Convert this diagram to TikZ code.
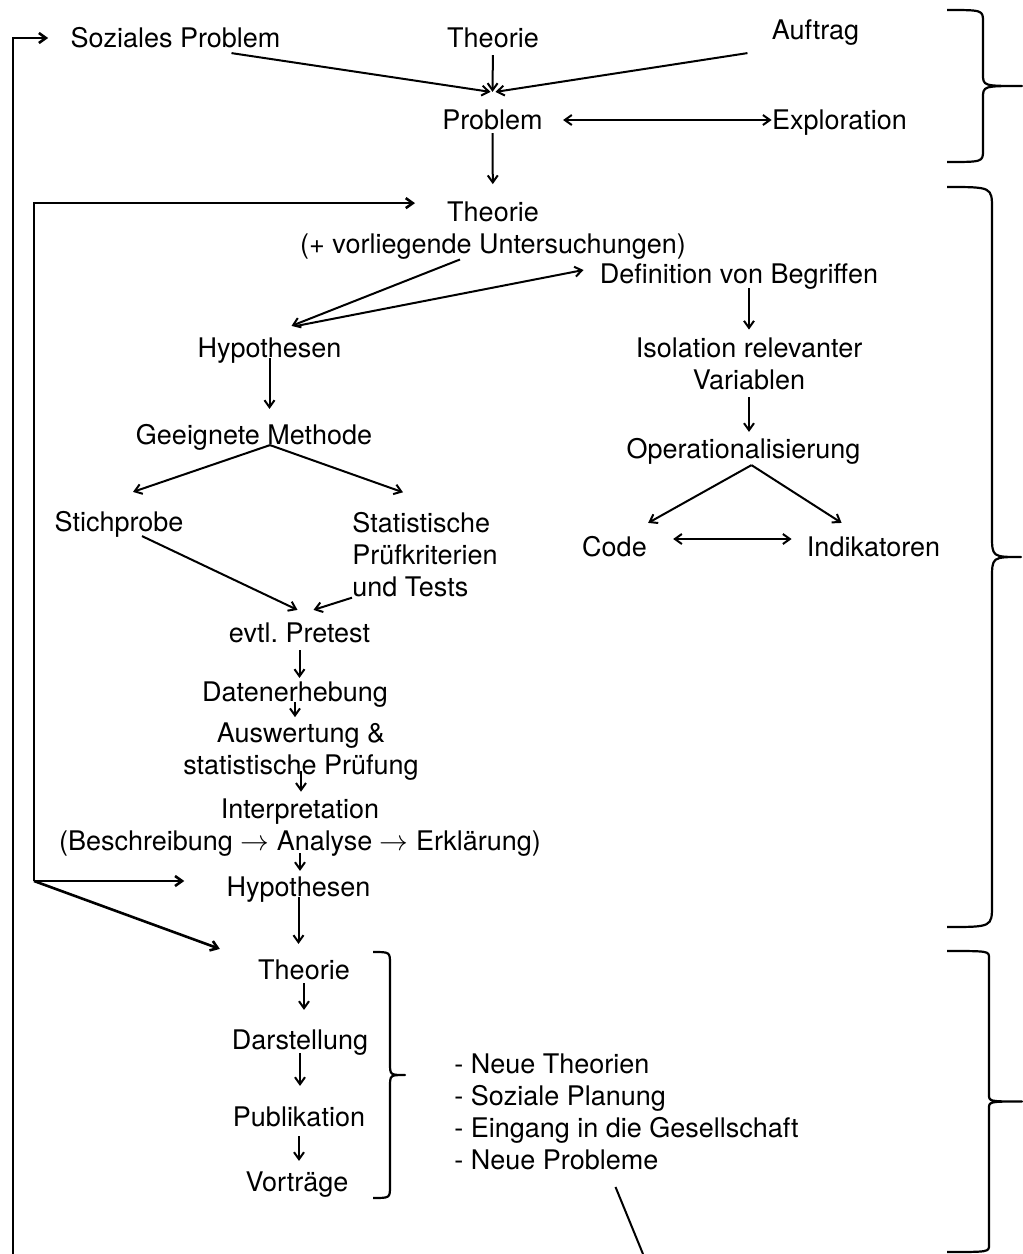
\documentclass[tikz,border=0pt]{standalone}
\usepackage{fontspec}
\setmainfont{TeX Gyre Heros}
\usetikzlibrary{arrows.meta,calc}

\tikzset{
  txt/.style={inner sep=0pt, text height=9.7pt, text depth=0pt},
  mtxt/.style={inner sep=0pt, align=center},
  verb/.style={->, line width=1pt},
  rueck/.style={->, line width=1.3pt},
  klammerlinie/.style={line width=1.1pt, line join=round},
}

% right brace: ends x, stem x, tip x, top y, bottom y, bend
\newcommand{\klammer}[6]{%
  \pgfmathsetmacro{\km}{(#4+#5)/2}%
  \draw[klammerlinie] (#1,#4) .. controls (#2,#4) .. (#2,{#4+#6})
    -- (#2,{\km-#6}) .. controls (#2,\km) .. (#3,\km)
    .. controls (#2,\km) .. (#2,{\km+#6})
    -- (#2,{#5-#6}) .. controls (#2,#5) .. (#1,#5);
}

\begin{document}
\begin{tikzpicture}[x=0.5pt, y=-0.5pt, >={Straight Barb[length=3.5pt,width=5pt]},
                    font=\fontsize{13.5}{16}\selectfont]
  \useasboundingbox (0,0) rectangle (1023,1254);
  % problem finding
  \node[txt] (soz)     at (175.5,38) {Soziales Problem};
  \node[txt] (theo1)   at (493,38)   {Theorie};
  \node[txt] (auftrag) at (815.5,30) {Auftrag};
  \node[txt] (problem) at (492.5,120) {Problem};
  \node[txt] (explor)  at (839.5,120) {Exploration};
  % research design
  \node[mtxt] (theo2)  at (493,230.3) {Theorie\\(+ vorliegende Untersuchungen)};
  \node[txt] (def)     at (739,274)  {Definition von Begriffen};
  \node[txt] (hyp1)    at (269.5,348) {Hypothesen};
  \node[mtxt] (iso)    at (749,364)  {Isolation relevanter\\Variablen};
  \node[txt] (methode) at (254,435)  {Geeignete Methode};
  \node[txt] (oper)    at (743.5,449) {Operationalisierung};
  \node[txt] (stich)   at (119,522)  {Stichprobe};
  \node[mtxt, align=left, anchor=north west] (stat) at (352,512.3)
       {Statistische\\Prüfkriterien\\und Tests};
  \node[txt] (code)    at (614.5,547) {Code};
  \node[txt] (indik)   at (873.5,547) {Indikatoren};
  \node[txt] (pretest) at (299.5,633) {evtl.\ Pretest};
  \node[txt] (daten)   at (295,692)  {Datenerhebung};
  \node[mtxt] (ausw)   at (301,751.3) {Auswertung \&\\statistische Prüfung};
  \node[mtxt] (interp) at (300,827.9)
       {Interpretation\\(Beschreibung $\rightarrow$ Analyse $\rightarrow$ Erklärung)};
  \node[txt] (hyp2)    at (298.5,887) {Hypothesen};
  % publication
  \node[txt] (theo3)   at (304,970)  {Theorie};
  \node[txt] (darst)   at (300,1040) {Darstellung};
  \node[txt] (publ)    at (299,1117) {Publikation};
  \node[txt] (vort)    at (297,1182) {Vorträge};
  \node[mtxt, align=left, anchor=west] (liste) at (454,1111.5)
       {- Neue Theorien\\- Soziale Planung\\- Eingang in die Gesellschaft\\- Neue Probleme};

  % arrows into the problem
  \coordinate (pin) at ($(problem.north)+(0,-18)$);
  \draw[verb] ($(soz.south)+(56,5)$) -- ($(pin)+(-2,0)$);
  \draw[verb, shorten <=3.5pt] (theo1.south) -- (pin);
  \draw[verb] ($(auftrag.south west)+(-24,13)$) -- ($(pin)+(3,0)$);
  \draw[verb, <->, shorten <=10pt] (problem) -- (explor);
  \draw[verb, shorten <=1.5pt, shorten >=8.5pt] (problem) -- (theo2);

  % feedback lines
  \coordinate (knick) at (34,881);
  \coordinate (untenlinks) at (13,1254);
  \draw[rueck] (knick) |- ($(theo2.north)+(-78,2)$);
  \draw[rueck] (knick) -- ($(hyp2.west)+(-42,-6)$);
  \draw[rueck] (knick) -- ($(theo3.north west)+(-38,-11)$);
  \draw[rueck] (untenlinks) |- ($(soz.west)+(-22,0)$);

  % left column
  \coordinate (hpin) at ($(hyp1.north)+(27,-12)$);
  \draw[verb] ($(theo2.south)+(-33,0)$) -- ($(hyp1.north)+(22,-12)$);
  \draw[verb] (hpin) -- ($(def.west)+(-16,-4)$);
  \draw[verb] (hyp1.south) -- ([yshift=8pt]hyp1.south |- methode.north);
  \coordinate (mpin) at ($(methode.south)+(16,0)$);
  \draw[verb] (mpin) -- ($(stich.north)+(14,-20)$);
  \draw[verb] (mpin) -- ($(stat.north west)+(51,-20)$);
  \draw[verb] ($(stich.south)+(23,4)$) -- ($(pretest.north)+(-2,-13)$);
  \draw[verb] (stat.south west) -- ($(pretest.north)+(14,-13)$);
  \draw[verb, shorten <=3.5pt, shorten >=2pt] (pretest.south) -- (pretest.south |- daten.north);
  \draw[verb, shorten >=2.5pt] (daten.south) -- (daten.south |- ausw.north);
  \draw[verb, shorten <=-4.5pt, shorten >=3.5pt] (ausw.south) -- (ausw.south |- interp.north);
  \draw[verb, shorten <=-2pt, shorten >=3pt] (interp.south) -- (interp.south |- hyp2.north);
  \draw[verb, shorten >=8pt] (hyp2.south) -- (hyp2.south |- theo3.north);
  \draw[verb, shorten <=1.5pt, shorten >=10pt] (theo3.south) -- (theo3.south |- darst.north);
  \draw[verb, shorten <=1.5pt, shorten >=10.5pt] (darst.south) -- (darst.south |- publ.north);
  \draw[verb, shorten <=4.5pt, shorten >=5.5pt] (publ.south) -- (publ.south |- vort.north);

  % right column
  \draw[verb, shorten <=2pt, shorten >=4pt] (def.south -| iso.north) -- (iso.north);
  \draw[verb, shorten <=3.5pt, shorten >=3.5pt] (iso.south) -- (iso.south |- oper.north);
  \coordinate (opin) at ($(oper.south)+(8,6)$);
  \draw[verb] (opin) -- ($(code.north east)+(1,-14)$);
  \draw[verb] (opin) -- ($(indik.north west)+(35,-14)$);
  \draw[verb, <->] ($(code.east)+(26,-8)$) -- ($(indik.west)+(-15,-8)$);

  % line from the list
  \coordinate (untenmitte) at (643,1254);
  \draw[line width=1pt] ($(liste.south)+(-11,17)$) -- (untenmitte);

  % braces
  \klammer{947}{983}{1022}{10}{162}{12}
  \klammer{947}{992}{1021}{187}{927}{22}
  \klammer{947}{989}{1022}{951}{1252}{7}
  \klammer{373}{390}{405}{952}{1198}{12}
\end{tikzpicture}
\end{document}
